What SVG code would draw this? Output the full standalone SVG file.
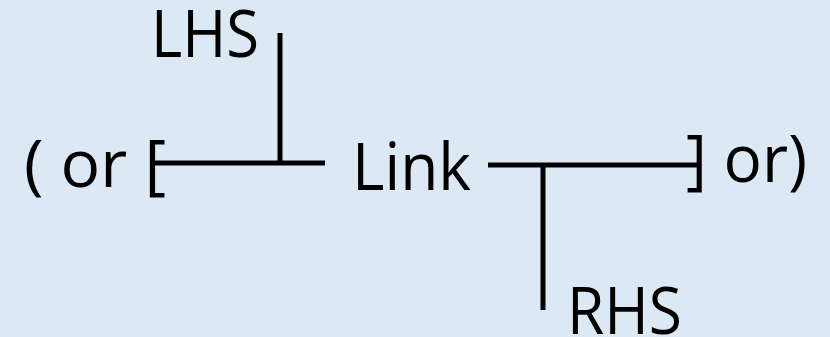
<svg xmlns="http://www.w3.org/2000/svg" width="830" height="337" viewBox="0 0 830 337">
  <style>
    .lbl { font-family: "Open Sans", "Liberation Sans", sans-serif; font-size: 66px; fill: #000; }
    .wire { stroke: #000; stroke-width: 5; fill: none; }
  </style>
  <rect x="0" y="0" width="830" height="337" fill="#dde8f5"/>

  <g id="connectors">
    <line class="wire" x1="155" y1="163" x2="325" y2="163"/>
    <line class="wire" x1="280" y1="33" x2="280" y2="163"/>
    <line class="wire" x1="488" y1="165" x2="697" y2="165"/>
    <line class="wire" x1="543" y1="165" x2="543" y2="310"/>
  </g>

  <g id="lhs"><text class="lbl" x="151" y="57" textLength="108" lengthAdjust="spacingAndGlyphs">LHS</text></g>
  <g id="link"><text class="lbl" x="352" y="190" textLength="119" lengthAdjust="spacingAndGlyphs">Link</text></g>
  <g id="rhs"><text class="lbl" x="567" y="334" textLength="115" lengthAdjust="spacingAndGlyphs">RHS</text></g>
  <g id="left-open"><text class="lbl" x="166" y="187" text-anchor="end">( or [</text></g>
  <g id="right-close"><text class="lbl" x="686" y="182" textLength="121" lengthAdjust="spacingAndGlyphs">] or)</text></g>
</svg>
